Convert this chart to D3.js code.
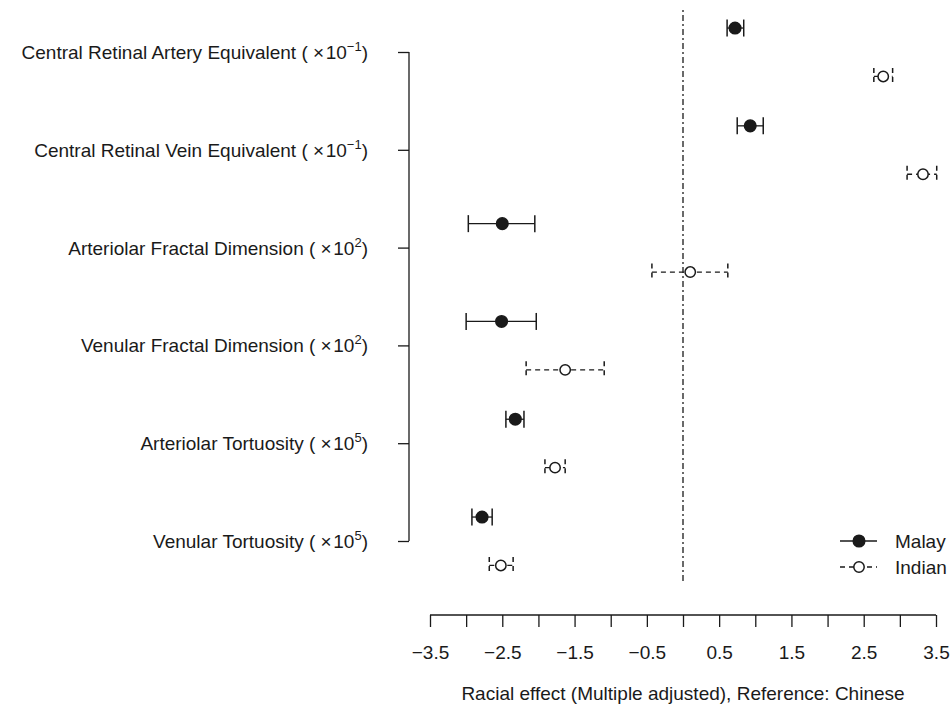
<!DOCTYPE html>
<html>

<head>
  <meta charset="utf-8">
  <title>Racial effect forest plot</title>
  <script src="https://d3js.org/d3.v7.min.js"></script>
  <style>
    body { margin: 0; background: #fff; }
    text { font-family: "Liberation Sans", Arial, sans-serif; fill: #1a1a1a; }
  </style>
</head>

<body>

  <script>
    var width = 950;
    var height = 707;

    // data
    var measures = ["Central Retinal Artery Equivalent", "Central Retinal Vein Equivalent",
      "Arteriolar Fractal Dimension", "Venular Fractal Dimension",
      "Arteriolar Tortuosity", "Venular Tortuosity"];
    var exponents = ["\u22121", "\u22121", "2", "2", "5", "5"];

    var malayEst = [0.72, 0.93, -2.50, -2.51, -2.32, -2.78];
    var malayLo = [0.61, 0.75, -2.97, -3.00, -2.45, -2.92];
    var malayHi = [0.84, 1.11, -2.05, -2.03, -2.20, -2.64];

    var indianEst = [2.77, 3.32, 0.10, -1.63, -1.77, -2.52];
    var indianLo = [2.64, 3.10, -0.43, -2.17, -1.91, -2.68];
    var indianHi = [2.90, 3.51, 0.62, -1.09, -1.63, -2.35];

    var xTicks = [-3.5, -3, -2.5, -2, -1.5, -1, -0.5, 0, 0.5, 1, 1.5, 2, 2.5, 3, 3.5];
    var xLabels = [-3.5, -2.5, -1.5, -0.5, 0.5, 1.5, 2.5, 3.5];
    var series = ["Malay", "Indian"];

    var ink = "#1a1a1a";
    var fs = 19;

    var svg = d3.select("body").append("svg").attr("width", width).attr("height", height);

    var x = d3.scaleLinear().domain([-3.5, 3.5]).range([430, 936]);
    var y = d3.scaleLinear().domain([0, 5]).range([52, 541]);

    // y axis (category ticks, labels drawn by hand for superscripts)
    var yAxis = d3.axisLeft(y).tickValues(d3.range(measures.length)).tickSize(11).tickFormat("");
    var gY = svg.append("g").attr("transform", "translate(409,0)").call(yAxis);
    gY.select(".domain").attr("d", "M0," + y(0) + "V" + y(5)).attr("stroke", ink).attr("stroke-width", 1.3);
    gY.selectAll(".tick line").attr("stroke", ink).attr("stroke-width", 1.3);

    measures.forEach(function (m, i) {
      var t = svg.append("text")
        .attr("x", 368)
        .attr("y", y(i) + 7)
        .attr("text-anchor", "end")
        .attr("font-size", fs);
      t.append("tspan").text(m + " ( \u00d7\u200a10");
      t.append("tspan").attr("dy", -8).attr("font-size", 13).text(exponents[i]);
      t.append("tspan").attr("dy", 8).text(")");
    });

    // x axis
    var xAxis = d3.axisBottom(x).tickValues(xTicks).tickSize(12)
      .tickFormat(function (d) { return xLabels.indexOf(d) >= 0 ? d3.format(".1f")(d) : ""; });
    var gX = svg.append("g").attr("transform", "translate(0,615)").call(xAxis);
    gX.select(".domain").attr("d", "M" + x(-3.5) + ",0H" + x(3.5)).attr("stroke", ink).attr("stroke-width", 1.3);
    gX.selectAll(".tick line").attr("stroke", ink).attr("stroke-width", 1.3);
    gX.selectAll(".tick text").attr("y", 44).attr("dy", 0)
      .attr("font-size", fs).attr("font-family", "Liberation Sans, Arial, sans-serif").attr("fill", ink);

    svg.append("text")
      .attr("x", x(0))
      .attr("y", 700)
      .attr("text-anchor", "middle")
      .attr("font-size", fs)
      .text("Racial effect (Multiple adjusted), Reference: Chinese");

    // reference line at zero
    svg.append("line")
      .attr("x1", x(0)).attr("x2", x(0))
      .attr("y1", 10).attr("y2", 583)
      .attr("stroke", ink).attr("stroke-width", 1.3)
      .attr("stroke-dasharray", "2,3,6,3");

    function drawSeries(est, lo, hi, off, dashed, filled) {
      var g = svg.append("g");
      var idx = d3.range(est.length);
      g.selectAll(".ci").data(idx).enter().append("line")
        .attr("x1", function (i) { return x(lo[i]); })
        .attr("x2", function (i) { return x(hi[i]); })
        .attr("y1", function (i) { return y(i + off); })
        .attr("y2", function (i) { return y(i + off); })
        .attr("stroke", ink).attr("stroke-width", 1.3)
        .attr("stroke-dasharray", dashed ? "5,4" : null);
      [lo, hi].forEach(function (arr) {
        g.selectAll(null).data(idx).enter().append("line")
          .attr("x1", function (i) { return x(arr[i]); })
          .attr("x2", function (i) { return x(arr[i]); })
          .attr("y1", function (i) { return y(i + off) - 8.5; })
          .attr("y2", function (i) { return y(i + off) + 8.5; })
          .attr("stroke", ink).attr("stroke-width", 1.5)
          .attr("stroke-dasharray", dashed ? "5,4" : null);
      });
      g.selectAll("circle").data(idx).enter().append("circle")
        .attr("cx", function (i) { return x(est[i]); })
        .attr("cy", function (i) { return y(i + off); })
        .attr("r", filled ? 5.8 : 5.2)
        .attr("fill", filled ? ink : "#fff")
        .attr("stroke", ink).attr("stroke-width", 1.5);
    }

    drawSeries(malayEst, malayLo, malayHi, -0.245, false, true);
    drawSeries(indianEst, indianLo, indianHi, 0.25, true, false);

    // legend
    var leg = svg.append("g");
    series.forEach(function (s, i) {
      var ly = 541 + i * 26;
      leg.append("line").attr("x1", 840).attr("x2", 877).attr("y1", ly).attr("y2", ly)
        .attr("stroke", ink).attr("stroke-width", 1.3)
        .attr("stroke-dasharray", i === 1 ? "5,4" : null);
      leg.append("circle").attr("cx", 859).attr("cy", ly).attr("r", i === 0 ? 5.8 : 5.2)
        .attr("fill", i === 0 ? ink : "#fff").attr("stroke", ink).attr("stroke-width", 1.5);
      leg.append("text").attr("x", 895).attr("y", ly + 7).attr("font-size", fs).text(s);
    });
  </script>

</body>

</html>
